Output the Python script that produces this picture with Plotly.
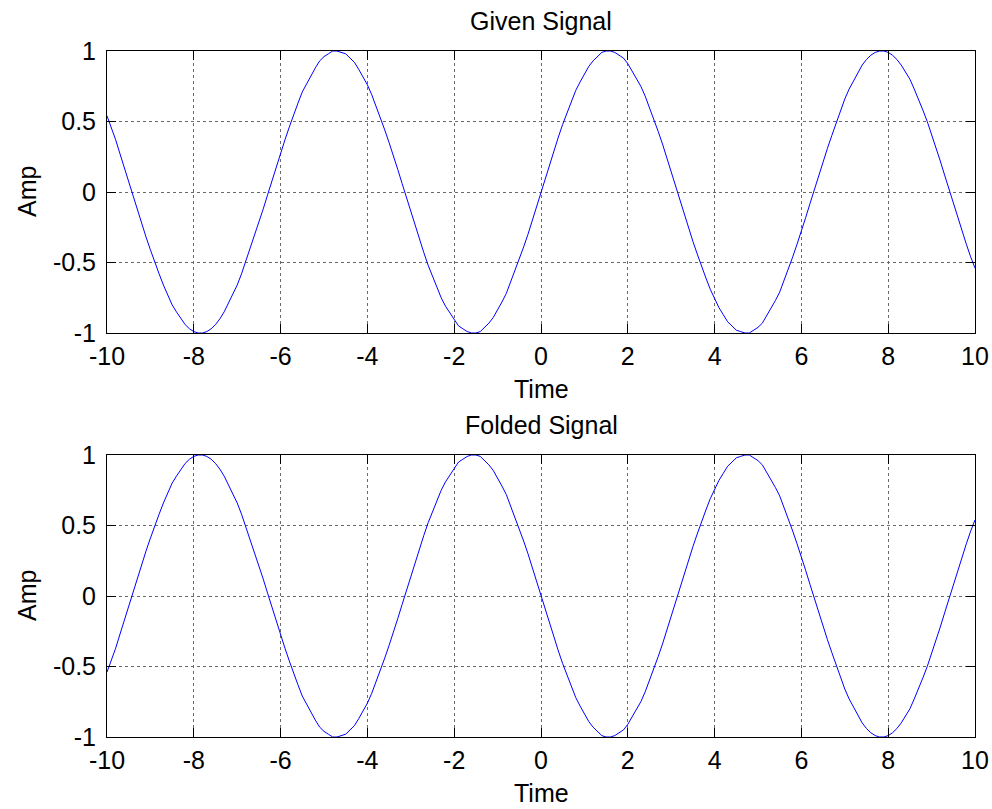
import plotly.graph_objects as go

# Sample instants, -10 .. 10 s in steps of 0.1 s
time = [round(k / 10, 1) for k in range(-100, 101)]

# Amplitude of the given signal at each sample instant
given_amp = [
    0.54, 0.46, 0.37, 0.27, 0.17, 0.08, -0.02, -0.12, -0.22, -0.32,
    -0.41, -0.50, -0.58, -0.66, -0.73, -0.80, -0.85, -0.90, -0.94, -0.97,
    -0.99, -1.00, -1.00, -0.99, -0.97, -0.94, -0.90, -0.85, -0.79, -0.73,
    -0.66, -0.58, -0.49, -0.40, -0.31, -0.22, -0.12, -0.02, 0.08, 0.18,
    0.28, 0.37, 0.46, 0.55, 0.63, 0.71, 0.77, 0.83, 0.88, 0.93,
    0.96, 0.98, 1.00, 1.00, 0.99, 0.98, 0.95, 0.92, 0.87, 0.82,
    0.76, 0.69, 0.61, 0.53, 0.44, 0.35, 0.26, 0.16, 0.06, -0.04,
    -0.14, -0.24, -0.34, -0.43, -0.52, -0.60, -0.68, -0.75, -0.81, -0.86,
    -0.91, -0.95, -0.97, -0.99, -1.00, -1.00, -0.99, -0.96, -0.93, -0.89,
    -0.84, -0.78, -0.72, -0.64, -0.56, -0.48, -0.39, -0.30, -0.20, -0.10,
    0.00,
    0.10, 0.20, 0.30, 0.39, 0.48, 0.56, 0.64, 0.72, 0.78, 0.84,
    0.89, 0.93, 0.96, 0.99, 1.00, 1.00, 0.99, 0.97, 0.95, 0.91,
    0.86, 0.81, 0.75, 0.68, 0.60, 0.52, 0.43, 0.34, 0.24, 0.14,
    0.04, -0.06, -0.16, -0.26, -0.35, -0.44, -0.53, -0.61, -0.69, -0.76,
    -0.82, -0.87, -0.92, -0.95, -0.98, -0.99, -1.00, -1.00, -0.98, -0.96,
    -0.93, -0.88, -0.83, -0.77, -0.71, -0.63, -0.55, -0.46, -0.37, -0.28,
    -0.18, -0.08, 0.02, 0.12, 0.22, 0.31, 0.40, 0.49, 0.58, 0.66,
    0.73, 0.79, 0.85, 0.90, 0.94, 0.97, 0.99, 1.00, 1.00, 0.99,
    0.97, 0.94, 0.90, 0.85, 0.80, 0.73, 0.66, 0.58, 0.50, 0.41,
    0.32, 0.22, 0.12, 0.02, -0.08, -0.17, -0.27, -0.37, -0.46, -0.54,
]

# Folding: y(t) = x(-t), i.e. the samples taken in reverse order
folded_amp = given_amp[::-1]

x_ticks = [-10, -8, -6, -4, -2, 0, 2, 4, 6, 8, 10]
x_tick_text = ["-10", "-8", "-6", "-4", "-2", "0", "2", "4", "6", "8", "10"]
y_ticks = [-1, -0.5, 0, 0.5, 1]
y_tick_text = ["-1", "-0.5", "0", "0.5", "1"]

panel_titles = ["Given Signal", "Folded Signal"]
x_label = "Time"
y_label = "Amp"

W, H = 992, 809
FONT = "Liberation Sans, Arial, sans-serif"
FS = 25

fig = go.Figure()
fig.add_trace(go.Scatter(x=time, y=given_amp, mode="lines",
                         line=dict(color="#0000ff", width=1),
                         xaxis="x", yaxis="y", showlegend=False))
fig.add_trace(go.Scatter(x=time, y=folded_amp, mode="lines",
                         line=dict(color="#0000ff", width=1),
                         xaxis="x2", yaxis="y2", showlegend=False))

left, right = 107, 975
panels = [(51, 333), (455, 737)]  # pixel top/bottom of each axes box


def xax(anchor):
    return dict(domain=[left / W, right / W], range=[-10, 10], anchor=anchor,
                automargin=False,
                tickmode="array", tickvals=x_ticks, ticktext=x_tick_text,
                ticks="inside", ticklen=9, tickwidth=1, tickcolor="black",
                showline=True, linecolor="black", linewidth=1, mirror="ticks",
                showgrid=True, gridcolor="#6a6a6a", griddash="dot", gridwidth=1,
                zeroline=False, tickfont=dict(family=FONT, size=FS, color="black"),
                ticklabelstandoff=1)


def yax(anchor, top, bottom):
    return dict(domain=[1 - bottom / H, 1 - top / H], range=[-1, 1], anchor=anchor,
                automargin=False,
                tickmode="array", tickvals=y_ticks, ticktext=y_tick_text,
                ticks="inside", ticklen=9, tickwidth=1, tickcolor="black",
                showline=True, linecolor="black", linewidth=1, mirror="ticks",
                showgrid=True, gridcolor="#6a6a6a", griddash="dot", gridwidth=1,
                zeroline=False, tickfont=dict(family=FONT, size=FS, color="black"),
                ticklabelstandoff=5)


fig.update_layout(
    width=W, height=H,
    margin=dict(l=0, r=0, t=0, b=0, autoexpand=False),
    paper_bgcolor="white", plot_bgcolor="white",
    xaxis=xax("y"), yaxis=yax("x", *panels[0]),
    xaxis2=xax("y2"), yaxis2=yax("x2", *panels[1]),
)

annotations = []
cx = (left + right) / 2 / W
for (top, bottom), title in zip(panels, panel_titles):
    annotations.append(dict(text=title, x=cx, y=1 - (top - 30) / H, xref="paper", yref="paper",
                            showarrow=False, xanchor="center", yanchor="middle",
                            font=dict(family=FONT, size=FS, color="black")))
    annotations.append(dict(text=x_label, x=cx, y=1 - (bottom + 56) / H, xref="paper", yref="paper",
                            showarrow=False, xanchor="center", yanchor="middle",
                            font=dict(family=FONT, size=FS, color="black")))
    annotations.append(dict(text=y_label, x=27 / W, y=1 - (top + bottom) / 2 / H,
                            xref="paper", yref="paper", textangle=-90,
                            showarrow=False, xanchor="center", yanchor="middle",
                            font=dict(family=FONT, size=FS, color="black")))
fig.update_layout(annotations=annotations)

fig.write_html("out.html")
